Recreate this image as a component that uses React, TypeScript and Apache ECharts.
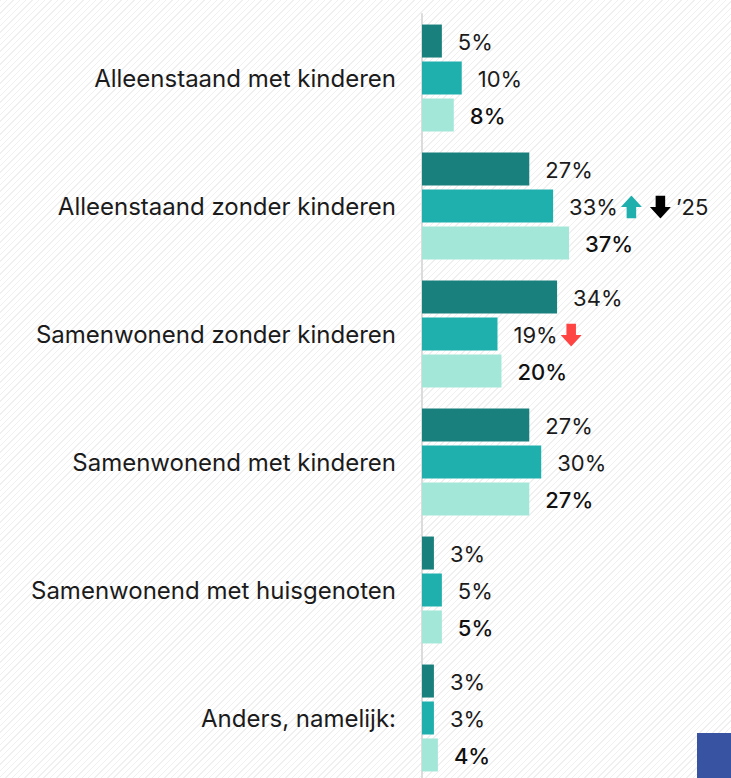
import React, { useEffect, useRef } from "react";
import * as echarts from "echarts";

const categories = [
  "Alleenstaand met kinderen",
  "Alleenstaand zonder kinderen",
  "Samenwonend zonder kinderen",
  "Samenwonend met kinderen",
  "Samenwonend met huisgenoten",
  "Anders, namelijk:",
];
const seriesDark = [5, 27, 34, 27, 3, 3];
const seriesMid = [10, 33, 19, 30, 5, 3];
const seriesLight = [8, 37, 20, 27, 5, 4];
// annotations on the middle series: index -> marker tokens
const midAnnotations: Record<number, string> = {
  1: "{s3|}{up|}{s8|}{down|}{s5|}{yr|’25}",
  2: "{s3|}{red|}",
};

const COLORS = ["#1a807d", "#1fb0ae", "#a3e7d9"];

const arrowUrl = (dir: "up" | "down", color: string) => {
  const pts =
    dir === "up"
      ? "11,0 22,12 16,12 16,24 6,24 6,12 0,12"
      : "6,0 16,0 16,12 22,12 11,24 0,12 6,12";
  const svg = `<svg xmlns="http://www.w3.org/2000/svg" width="22" height="24" viewBox="0 0 22 24"><polygon points="${pts}" fill="${color}"/></svg>`;
  return "data:image/svg+xml;charset=utf-8," + encodeURIComponent(svg);
};

export default function App() {
  const ref = useRef<HTMLDivElement>(null);
  useEffect(() => {
    if (!ref.current) return;
    const chart = echarts.init(ref.current, undefined, { renderer: "svg" });
    const font = "Inter, Roboto, sans-serif";
    const baseLabel = {
      show: true,
      position: "right" as const,
      distance: 16,
      offset: [0, 1],
      fontSize: 22,
      fontFamily: font,
      fontWeight: 400,
      color: "#1b1b1b",
    };
    const arrowBox = (dir: "up" | "down", color: string) => ({
      width: 21,
      height: 23,
      backgroundColor: { image: arrowUrl(dir, color) },
    });
    chart.setOption({
      animation: false,
      grid: { left: 422, top: 14, bottom: 0, right: 11 },
      xAxis: {
        type: "value",
        min: 0,
        max: 75,
        show: false,
      },
      yAxis: {
        type: "category",
        data: categories,
        inverse: true,
        axisTick: { show: false },
        axisLine: { show: true, lineStyle: { color: "#dcdcdc", width: 2 } },
        axisLabel: {
          margin: 26,
          fontSize: 24,
          fontFamily: font,
          fontWeight: 400,
          color: "#1b1b1b",
        },
        splitLine: { show: false },
      },
      series: [
        {
          type: "bar",
          data: seriesDark,
          barWidth: 33,
          barGap: "12%",
          itemStyle: { color: COLORS[0] },
          label: { ...baseLabel, formatter: "{c}%" },
        },
        {
          type: "bar",
          data: seriesMid,
          barWidth: 33,
          barGap: "12%",
          itemStyle: { color: COLORS[1] },
          label: {
            ...baseLabel,
            formatter: (p: any) =>
              p.value + "%" + (midAnnotations[p.dataIndex] ? midAnnotations[p.dataIndex] : ""),
            rich: {
              s3: { width: 3, height: 23 },
              s5: { width: 5, height: 23 },
              s8: { width: 8, height: 23 },
              up: arrowBox("up", COLORS[1]),
              down: arrowBox("down", "#000000"),
              red: arrowBox("down", "#ff4444"),
              yr: {
                fontSize: 22,
                fontFamily: font,
                color: "#1b1b1b",
              },
            },
          },
        },
        {
          type: "bar",
          data: seriesLight,
          barWidth: 33,
          barGap: "12%",
          itemStyle: { color: COLORS[2] },
          label: { ...baseLabel, formatter: "{c}%", fontWeight: 500, color: "#111" },
        },
      ],
      graphic: [
        {
          type: "rect",
          right: 0,
          bottom: 4,
          shape: { width: 34, height: 45 },
          style: { fill: "#3953a3" },
        },
      ],
    });
    return () => chart.dispose();
  }, []);
  return (
    <div
      style={{
        position: "fixed",
        left: 0,
        top: 0,
        width: 731,
        height: 778,
        overflow: "hidden",
        background:
          "repeating-linear-gradient(135deg, #f0f0f0 0px, #f0f0f0 1px, #ffffff 1px, #ffffff 4.5px)",
      }}
    >
      <div ref={ref} style={{ width: 731, height: 782 }} />
    </div>
  );
}
